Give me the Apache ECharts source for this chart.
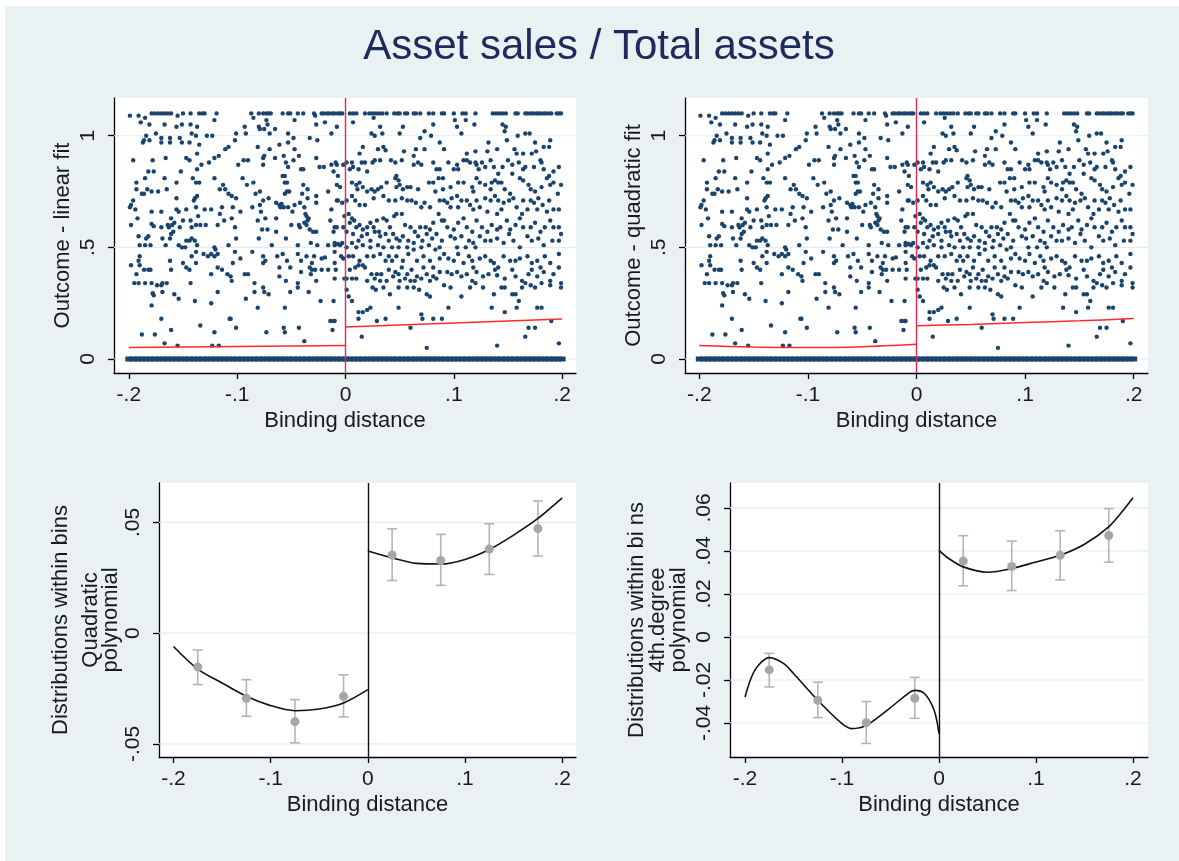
<!DOCTYPE html>
<html>
<head>
<meta charset="utf-8">
<script src="https://cdn.jsdelivr.net/npm/echarts/dist/echarts.min.js"></script>
<style>
html,body{margin:0;padding:0;background:#ffffff;}
#chart{width:1179px;height:861px;}
</style>
</head>
<body>
<div id="chart"></div>
<script>
// ---------------- DATA ----------------
const titleText = 'Asset sales / Total assets';
const xTicks = [-0.2, -0.1, 0, 0.1, 0.2];
const yTicksTop = [0, 0.5, 1];
const yTicksQuad = [-0.05, 0, 0.05];
const yTicksQuart = [-0.04, -0.02, 0, 0.02, 0.04, 0.06];

// observations with outcome exactly 0 (dense band)
const zeroRowX = [-.200,-.196,-.192,-.188,-.184,-.180,-.176,-.172,-.168,-.164,-.160,-.156,-.152,-.148,-.144,-.140,-.136,-.132,-.128,-.124,-.120,-.116,-.112,-.108,-.104,-.100,-.096,-.092,-.088,-.084,-.080,-.076,-.072,-.068,-.064,-.060,-.056,-.052,-.048,-.044,-.040,-.036,-.032,-.028,-.024,-.020,-.016,-.012,-.008,-.004,0,.004,.008,.012,.016,.020,.024,.028,.032,.036,.040,.044,.048,.052,.056,.060,.064,.068,.072,.076,.080,.084,.088,.092,.096,.100,.104,.108,.112,.116,.120,.124,.128,.132,.136,.140,.144,.148,.152,.156,.160,.164,.168,.172,.176,.180,.184,.188,.192,.196,.200];

// observations left of the threshold [binding distance, outcome]
const obsLeft = [
[-.199,1.09],[-.191,1.09],[-.185,1.08],[-.179,1.1],[-.176,1.1],[-.173,1.1],[-.170,1.1],[-.167,1.1],[-.164,1.1],[-.161,1.1],[-.155,1.09],[-.150,1.1],[-.143,1.1],[-.135,1.1],[-.132,1.1],[-.130,1.1],[-.119,1.1],
[-.189,1.06],[-.181,1.05],[-.167,1.05],[-.156,1.04],[-.151,1.05],[-.143,1.05],[-.137,1.04],[-.121,1.07],
[-.184,1.0],[-.175,1.01],[-.170,.99],[-.162,.99],[-.153,.99],[-.142,1.01],[-.138,1.0],[-.128,1.0],[-.123,1.0],
[-.186,.98],[-.187,.97],[-.181,.98],[-.170,.97],[-.162,.97],[-.151,.97],[-.144,.97],[-.135,.96],
[-.137,.92],[-.196,.89],[-.178,.89],[-.166,.90],[-.147,.90],[-.144,.89],[-.133,.87],[-.126,.88],[-.121,.90],[-.117,.91],[-.111,.94],[-.108,.95],
[-.152,.84],[-.137,.85],[-.182,.84],[-.177,.84],[-.185,.81],[-.193,.79],[-.167,.81],[-.156,.79],[-.141,.81],[-.138,.79],[-.135,.79],[-.121,.81],
[-.193,.76],[-.188,.74],[-.186,.74],[-.183,.76],[-.179,.75],[-.173,.75],[-.165,.76],[-.116,.76],[-.113,.78],[-.111,.76],[-.108,.74],
[-.196,.71],[-.198,.69],[-.199,.68],[-.194,.67],[-.192,.63],[-.198,.60],[-.179,.66],[-.170,.66],[-.161,.63],[-.156,.67],[-.154,.66],[-.147,.67],[-.138,.68],[-.136,.64],[-.130,.67],[-.124,.67],[-.114,.68],[-.116,.65],[-.112,.62],
[-.140,.71],[-.139,.72],[-.137,.73],[-.156,.72],
[-.179,.605],[-.177,.595],[-.170,.59],[-.164,.60],[-.163,.59],[-.160,.60],[-.158,.61],[-.153,.59],[-.150,.62],[-.143,.62],[-.142,.59],[-.138,.60],[-.134,.60],[-.129,.60],[-.118,.60],
[-.191,.55],[-.184,.54],[-.182,.55],[-.180,.51],[-.190,.51],[-.185,.51],[-.169,.54],[-.166,.51],[-.162,.54],[-.161,.56],[-.159,.57],[-.154,.51],[-.151,.50],[-.148,.50],[-.147,.53],[-.144,.53],[-.142,.54],[-.139,.53],[-.137,.51],[-.121,.50],[-.120,.49],[-.118,.47],[-.108,.51],
[-.190,.46],[-.191,.44],[-.198,.42],[-.190,.42],[-.193,.38],[-.186,.40],[-.182,.40],[-.180,.40],[-.162,.44],[-.161,.40],[-.150,.43],[-.147,.41],[-.144,.40],[-.142,.46],[-.138,.43],[-.138,.48],[-.131,.47],[-.127,.46],[-.124,.47],[-.121,.46],[-.124,.38],[-.118,.41],[-.114,.40],[-.109,.38],
[-.195,.34],[-.191,.34],[-.185,.34],[-.179,.34],[-.174,.33],[-.170,.33],[-.169,.34],[-.165,.34],[-.178,.295],[-.177,.285],
[-.169,.30],[-.158,.29],[-.154,.27],[-.143,.34],[-.139,.26],[-.124,.25],[-.118,.30],[-.179,.24],
[-.170,.18],[-.161,.13],[-.134,.15],[-.121,.12],[-.107,.18],[-.188,.11],[-.176,.11],[-.167,.07],[-.155,.06],[-.123,.06],[-.117,.06],
[-.087,1.1],[-.080,1.1],[-.076,1.1],[-.073,1.1],[-.071,1.1],[-.069,1.1],[-.058,1.1],[-.053,1.1],[-.051,1.1],[-.044,1.1],[-.039,1.1],[-.029,1.1],[-.022,1.1],[-.020,1.1],[-.017,1.1],[-.015,1.1],[-.012,1.1],[-.010,1.1],[-.007,1.1],[-.005,1.1],[-.003,1.1],
[-.085,1.08],[-.073,1.07],[-.072,1.05],[-.093,1.04],[-.080,1.04],[-.079,1.03],[-.075,1.03],[-.065,1.03],[-.047,1.07],[-.028,1.09],[-.027,1.05],[-.019,1.06],[-.008,1.04],
[-.101,1.01],[-.092,1.01],[-.102,.98],[-.070,1.01],[-.053,1.01],[-.048,.99],[-.033,.99],[-.026,.98],[-.013,1.01],
[-.081,.95],[-.070,.94],[-.061,.96],[-.053,.97],[-.047,.94],[-.075,.91],[-.076,.90],[-.065,.90],[-.057,.91],[-.055,.88],[-.053,.86],[-.048,.89],[-.043,.91],[-.027,.90],
[-.099,.87],[-.094,.89],[-.090,.89],[-.076,.87],[-.041,.85],[-.039,.85],[-.024,.86],[-.020,.86],[-.013,.87],[-.008,.87],
[-.095,.81],[-.091,.78],[-.085,.79],[-.058,.82],[-.056,.82],[-.056,.79],[-.054,.79],
[-.105,.73],[-.101,.72],[-.083,.74],[-.079,.75],[-.056,.74],[-.054,.75],[-.052,.75],[-.039,.78],[-.035,.76],[-.040,.74],[-.016,.75],[-.008,.78],
[-.076,.71],[-.071,.72],[-.064,.70],[-.061,.69],[-.059,.695],[-.057,.68],[-.060,.68],[-.053,.68],[-.047,.69],[-.042,.70],[-.035,.72],[-.027,.73],[-.027,.70],
[-.104,.68],[-.097,.66],[-.086,.68],[-.078,.66],[-.079,.69],[-.049,.66],[-.038,.68],[-.037,.65],[-.036,.64],[-.034,.63],[-.038,.61],[-.036,.60],[-.074,.63],[-.064,.63],[-.105,.63],[-.081,.62],[-.014,.62],[-.010,.59],[-.102,.59],[-.077,.58],[-.072,.58],[-.064,.57],[-.050,.60],[-.043,.60],[-.042,.59],[-.033,.58],[-.030,.57],[-.027,.57],[-.035,.62],[-.007,.71],[-.013,.67],
[-.101,.54],[-.080,.54],[-.055,.54],[-.044,.51],[-.068,.51],[-.032,.52],[-.026,.51],[-.016,.51],[-.010,.51],[-.007,.515],
[-.102,.48],[-.086,.48],[-.076,.46],[-.063,.46],[-.058,.47],[-.054,.44],[-.044,.47],[-.041,.44],[-.036,.46],[-.029,.46],[-.022,.45],[-.019,.455],[-.010,.48],[-.097,.45],[-.104,.43],[-.076,.43],[-.074,.44],
[-.106,.37],[-.105,.35],[-.093,.38],[-.090,.38],[-.061,.41],[-.051,.41],[-.061,.37],[-.041,.39],[-.033,.41],[-.031,.40],[-.032,.38],[-.028,.40],[-.022,.40],[-.016,.40],[-.027,.35],[-.009,.40],[-.031,.43],
[-.084,.34],[-.076,.32],[-.075,.30],[-.084,.30],[-.071,.29],[-.055,.35],[-.044,.34],[-.044,.32],[-.051,.30],[-.034,.30],[-.092,.27],[-.081,.23],[-.056,.23],[-.023,.26],
[-.106,.18],[-.101,.14],[-.073,.12],[-.057,.14],[-.056,.12],[-.043,.14],[-.038,.08],[-.014,.17],[-.010,.17],[-.012,.13],
[-.009,.88],[-.007,.82],[-.005,.77],[-.011,.84],[-.008,.71],[-.008,.59],[-.010,.52],[-.011,.57],[-.005,.51],[-.010,.43],[-.010,.36],[-.004,.46],[-.011,.26],[-.011,.17],
[-.002,.59],[-.003,.52],[-.002,.45],[-.001,.36],[-.003,.70],[-.002,.87],[-.001,.64]
];

// observations right of the threshold [binding distance, outcome]
const obsRight = [
[.004,1.1],[.007,1.1],[.010,1.1],[.018,1.1],[.022,1.1],[.025,1.1],[.028,1.1],[.031,1.1],[.034,1.1],[.038,1.1],[.045,1.1],[.048,1.1],[.050,1.1],[.055,1.1],[.057,1.1],[.063,1.1],[.065,1.1],[.069,1.1],[.077,1.1],[.081,1.1],[.089,1.1],
[.007,1.06],[.026,1.08],[.032,1.04],[.053,1.04],[.081,1.05],[.024,1.01],[.027,1.0],[.034,1.01],[.050,1.01],[.073,1.02],[.069,.99],[.079,1.0],
[.016,.95],[.030,.94],[.035,.95],[.037,.935],[.054,.93],[.063,.91],[.065,.94],[.073,.94],[.087,.97],[.013,.92],
[.006,.88],[.004,.85],[.007,.86],[.012,.85],[.015,.88],[.018,.88],[.020,.84],[.025,.88],[.027,.89],[.032,.89],[.042,.89],[.046,.88],[.052,.89],[.063,.87],[.067,.88],[.070,.87],[.081,.88],[.084,.85],[.087,.85],[.001,.88],
[.006,.79],[.010,.78],[.013,.79],[.011,.76],[.016,.77],[.020,.75],[.024,.76],[.027,.75],[.030,.76],[.033,.77],[.038,.79],[.046,.81],[.047,.77],[.050,.78],[.053,.76],[.057,.77],[.060,.77],[.067,.76],[.077,.79],[.081,.79],[.086,.81],[.090,.81],[.083,.75],[.047,.82],[.049,.80],
[.001,.71],[.006,.73],[.009,.71],[.013,.69],[.018,.69],[.026,.72],[.035,.73],[.040,.71],[.046,.71],[.052,.72],[.057,.71],[.061,.71],[.065,.70],[.070,.68],[.073,.70],[.078,.68],[.087,.71],[.090,.76],
[.003,.65],[.006,.63],[.004,.61],[.008,.62],[.010,.59],[.013,.60],[.016,.58],[.020,.59],[.023,.61],[.026,.59],[.029,.62],[.031,.57],[.035,.63],[.038,.62],[.041,.59],[.045,.64],[.047,.65],[.052,.65],[.055,.60],[.060,.59],[.064,.57],[.069,.59],[.074,.59],[.078,.58],[.081,.61],[.086,.65],[.089,.62],
[.001,.57],[.007,.56],[.012,.53],[.015,.55],[.020,.56],[.023,.53],[.027,.57],[.032,.55],[.037,.56],[.040,.53],[.044,.56],[.047,.54],[.050,.53],[.053,.55],[.058,.53],[.063,.52],[.067,.55],[.071,.53],[.075,.56],[.080,.54],[.084,.56],[.089,.53],
[.001,.50],[.006,.52],[.010,.50],[.016,.51],[.023,.50],[.030,.51],[.035,.50],[.043,.50],[.049,.50],[.057,.50],[.063,.49],[.070,.50],[.077,.51],[.083,.49],[.087,.50],
[.003,.46],[.007,.46],[.013,.44],[.016,.42],[.020,.46],[.026,.46],[.032,.47],[.037,.44],[.040,.46],[.043,.44],[.047,.46],[.053,.44],[.058,.47],[.066,.44],[.072,.46],[.078,.44],[.081,.41],[.087,.45],
[.004,.40],[.009,.41],[.012,.42],[.018,.41],[.024,.38],[.029,.38],[.033,.38],[.040,.40],[.046,.39],[.049,.38],[.052,.41],[.057,.38],[.061,.40],[.066,.37],[.072,.41],[.075,.38],[.081,.37],[.087,.39],
[.001,.36],[.006,.36],[.010,.36],[.020,.35],[.027,.36],[.032,.35],[.038,.35],[.044,.37],[.050,.35],[.055,.36],[.060,.35],[.064,.35],[.070,.36],[.078,.35],[.084,.36],
[.025,.32],[.028,.31],[.035,.32],[.041,.29],[.049,.32],[.057,.32],[.063,.32],[.068,.31],[.075,.29],[.078,.28],[.001,.31],[.003,.28],[.006,.26],
[.023,.23],[.012,.21],[.012,.18],[.016,.21],[.020,.22],[.029,.17],[.037,.18],[.049,.23],[.070,.20],[.071,.18],[.081,.18],[.089,.18],[.060,.14],[.015,.10],[.075,.05],
[.091,1.1],[.100,1.1],[.108,1.1],[.111,1.1],[.120,1.1],[.136,1.1],[.139,1.1],[.142,1.1],[.145,1.1],[.148,1.1],[.157,1.1],[.159,1.1],[.166,1.1],[.168,1.1],[.171,1.1],[.173,1.1],[.176,1.1],[.178,1.1],[.180,1.1],[.183,1.1],[.185,1.1],[.188,1.1],[.190,1.1],[.195,1.1],[.197,1.1],[.199,1.1],
[.101,1.07],[.111,1.07],[.103,1.04],[.119,1.05],[.145,1.05],[.148,1.04],[.107,1.01],[.147,1.02],[.132,.97],[.149,.98],[.159,1.0],[.166,1.01],[.170,1.01],[.175,.97],[.183,.95],[.189,.98],
[.091,.94],[.112,.92],[.120,.93],[.131,.93],[.140,.94],[.156,.94],[.158,.92],[.164,.92],[.172,.92],[.176,.93],[.181,.88],[.188,.95],
[.095,.88],[.103,.87],[.104,.85],[.109,.89],[.112,.89],[.115,.88],[.120,.88],[.121,.87],[.123,.85],[.126,.88],[.129,.86],[.134,.89],[.137,.86],[.141,.83],[.145,.86],[.150,.89],[.154,.87],[.154,.83],[.160,.88],[.164,.85],[.166,.86],[.174,.86],[.180,.89],[.183,.85],[.188,.82],[.192,.84],[.100,.85],
[.097,.77],[.104,.79],[.109,.79],[.117,.77],[.121,.81],[.124,.79],[.129,.78],[.135,.79],[.138,.80],[.141,.79],[.144,.79],[.147,.76],[.152,.74],[.161,.81],[.164,.80],[.169,.78],[.171,.76],[.175,.75],[.181,.77],[.186,.81],[.189,.78],[.192,.79],[.134,.76],[.118,.75],
[.091,.71],[.094,.70],[.098,.72],[.103,.73],[.107,.71],[.112,.71],[.115,.69],[.121,.71],[.124,.68],[.129,.72],[.134,.71],[.138,.73],[.141,.71],[.146,.70],[.151,.71],[.155,.72],[.158,.68],[.164,.71],[.171,.71],[.174,.70],[.178,.72],[.182,.69],[.188,.71],[.192,.67],[.097,.68],[.104,.68],[.118,.67],[.131,.66],[.140,.65],[.144,.67],[.163,.65],[.168,.67],[.177,.67],[.186,.66],
[.091,.62],[.094,.59],[.100,.58],[.104,.61],[.109,.63],[.112,.59],[.117,.57],[.121,.62],[.126,.59],[.131,.57],[.135,.60],[.140,.58],[.143,.59],[.149,.62],[.152,.58],[.157,.60],[.161,.63],[.164,.59],[.171,.59],[.175,.61],[.180,.57],[.184,.59],[.189,.62],[.192,.59],
[.097,.55],[.101,.54],[.107,.55],[.114,.53],[.118,.52],[.124,.55],[.129,.53],[.134,.53],[.140,.54],[.146,.52],[.151,.56],[.155,.53],[.161,.50],[.168,.55],[.172,.53],[.178,.54],[.183,.51],[.191,.53],[.103,.50],[.111,.50],[.120,.50],
[.091,.47],[.095,.45],[.100,.44],[.104,.47],[.109,.43],[.114,.46],[.117,.44],[.118,.41],[.124,.45],[.129,.46],[.134,.44],[.137,.43],[.141,.41],[.146,.46],[.152,.44],[.157,.44],[.161,.45],[.168,.46],[.172,.43],[.177,.44],[.180,.41],[.184,.46],[.189,.43],
[.094,.39],[.098,.38],[.103,.39],[.107,.37],[.112,.38],[.117,.35],[.121,.39],[.127,.37],[.132,.38],[.138,.40],[.140,.375],[.147,.36],[.154,.40],[.157,.37],[.163,.35],[.169,.38],[.172,.40],[.177,.37],[.183,.39],[.189,.35],[.192,.38],
[.091,.33],[.097,.32],[.107,.28],[.115,.32],[.120,.34],[.127,.32],[.137,.29],[.144,.32],[.147,.32],[.154,.29],[.157,.29],[.163,.32],[.166,.34],[.171,.33],[.175,.32],[.181,.34],[.189,.33],
[.095,.23],[.135,.23],[.147,.21],[.160,.26],[.158,.23],[.177,.23],[.181,.23],[.169,.14],[.175,.14],[.166,.10],[.140,.06],[.190,.17],
[.197,.86],[.199,.78],[.197,.67],[.197,.59],[.199,.56],[.197,.53],[.197,.47],[.197,.41],[.199,.34],[.199,.32],[.197,.07],[.196,.74]
];

// fitted values (top panels)
const linFitLeft = [[-0.2, 0.052], [0, 0.060]];
const linFitRight = [[0, 0.143], [0.2, 0.179]];
const quadFitLeft = [[-0.2, 0.060], [-0.15, 0.054], [-0.1, 0.051], [-0.05, 0.055], [0, 0.066]];
const quadFitRight = [[0, 0.149], [0.05, 0.155], [0.1, 0.163], [0.15, 0.171], [0.2, 0.181]];

// bin means with confidence intervals (bottom panels)
const binX = [-0.175, -0.125, -0.075, -0.025, 0.025, 0.075, 0.125, 0.175];
const binMean = [-0.0153, -0.0294, -0.0399, -0.0285, 0.0353, 0.0328, 0.0380, 0.0472];
const binLow = [-0.0232, -0.0375, -0.0495, -0.0378, 0.0238, 0.0216, 0.0265, 0.0348];
const binHigh = [-0.0076, -0.0210, -0.0300, -0.0188, 0.0471, 0.0446, 0.0494, 0.0597];

// polynomial fits (bottom panels)
const quadPolyLeft = [[-0.2, -0.0060], [-0.175, -0.0162], [-0.15, -0.0225], [-0.125, -0.0285], [-0.1, -0.0327], [-0.075, -0.0350], [-0.05, -0.0342], [-0.025, -0.0315], [0, -0.0255]];
const quadPolyRight = [[0, 0.0371], [0.025, 0.0340], [0.05, 0.0315], [0.075, 0.0312], [0.1, 0.0333], [0.125, 0.0378], [0.15, 0.0443], [0.175, 0.0518], [0.2, 0.0611]];
const quartPolyLeft = [[-0.2, -0.0279], [-0.19, -0.0155], [-0.175, -0.0096], [-0.16, -0.0124], [-0.15, -0.0170], [-0.125, -0.0294], [-0.1, -0.0403], [-0.09, -0.0426], [-0.075, -0.0411], [-0.05, -0.0328], [-0.03, -0.0256], [-0.025, -0.0248], [-0.015, -0.0263], [-0.005, -0.0341], [0, -0.0449]];
const quartPolyRight = [[0, 0.0403], [0.01, 0.0365], [0.025, 0.0326], [0.05, 0.0301], [0.075, 0.0318], [0.1, 0.0349], [0.125, 0.0380], [0.15, 0.0431], [0.175, 0.0512], [0.19, 0.0589], [0.2, 0.0647]];

// ---------------- CHART ----------------
const FONT = "'Liberation Sans', Arial, sans-serif";
const NAVY = '#1a446c';
function fmt(v) {
  v = Math.round(v * 10000) / 10000;
  if (v === 0) return '0';
  const s = String(Math.abs(v)).replace(/^0\./, '.');
  return (v < 0 ? '-' : '') + s;
}

const grids = [
  {left: 114, top: 98, width: 462, height: 275},
  {left: 685, top: 98, width: 463, height: 275},
  {left: 159, top: 483, width: 417, height: 274},
  {left: 730, top: 483, width: 418, height: 274}
].map(g => Object.assign({show: true, backgroundColor: '#ffffff', borderWidth: 0, containLabel: false}, g));

const xRanges = [[-0.2137, 0.2128], [-0.2132, 0.2132], [-0.2149, 0.2142], [-0.2155, 0.2155]];
const yRanges = [[-0.0627, 1.169], [-0.0627, 1.169], [-0.0559, 0.0678], [-0.0558, 0.0716]];
const yTickSets = [yTicksTop, yTicksTop, yTicksQuad, yTicksQuart];
const yNames = ['Outcome - linear fit', 'Outcome - quadratic fit',
  '{a|Distributions within bins}\n{b|Quadratic}\n{c|polynomial}',
  'Distributions within bi ns\n4th.degree\npolynomial'];
const yNameGaps = [41, 41, 38, 41];
const nameRich = {
  a: {fontFamily: FONT, fontSize: 22, color: '#1a1a1a', lineHeight: 38},
  b: {fontFamily: FONT, fontSize: 22, color: '#1a1a1a', lineHeight: 22},
  c: {fontFamily: FONT, fontSize: 22, color: '#1a1a1a', lineHeight: 18}
};

const axisLineStyle = {color: '#000000', width: 1.3};
const xAxes = xRanges.map((r, i) => ({
  type: 'value', gridIndex: i, min: r[0], max: r[1],
  name: 'Binding distance', nameLocation: 'middle', nameGap: 37,
  nameTextStyle: {fontFamily: FONT, fontSize: 22, color: '#1a1a1a'},
  axisLine: {show: true, onZero: false, lineStyle: axisLineStyle},
  axisTick: {show: true, length: 6, customValues: xTicks, lineStyle: axisLineStyle},
  axisLabel: {customValues: xTicks, formatter: fmt, margin: 12, fontFamily: FONT, fontSize: 21, color: '#1a1a1a'},
  splitLine: {show: false}
}));
const yAxes = yRanges.map((r, i) => ({
  type: 'value', gridIndex: i, min: r[0], max: r[1],
  name: yNames[i], nameLocation: 'middle', nameGap: yNameGaps[i], nameRotate: 90,
  nameTextStyle: i === 2 ? {rich: nameRich} : {fontFamily: FONT, fontSize: 22, color: '#1a1a1a', lineHeight: 21},
  axisLine: {show: true, onZero: false, lineStyle: axisLineStyle},
  axisTick: {show: true, length: 6, customValues: yTickSets[i], lineStyle: axisLineStyle},
  axisLabel: {customValues: yTickSets[i], formatter: fmt, rotate: 90, margin: 15, fontFamily: FONT, fontSize: 21, color: '#1a1a1a'},
  splitLine: {show: false}
}));

const series = [];
// horizontal grid lines, drawn under the marks
yTickSets.forEach((ticks, i) => {
  series.push({
    type: 'custom', xAxisIndex: i, yAxisIndex: i, z: 1, silent: true,
    data: ticks.map(v => [0, v]),
    renderItem: function (params, api) {
      const cs = params.coordSys;
      const y = api.coord([0, api.value(1)])[1];
      return {type: 'line', shape: {x1: cs.x, y1: y, x2: cs.x + cs.width, y2: y},
        style: {stroke: '#e3edf1', lineWidth: 1.2}};
    }
  });
});
// scatter top panels
[0, 1].forEach(i => {
  series.push({type: 'scatter', xAxisIndex: i, yAxisIndex: i, z: 3, symbol: 'rect', symbolSize: [7, 5],
    itemStyle: {color: NAVY, opacity: 1}, data: zeroRowX.map(x => [x, 0])});
  series.push({type: 'scatter', xAxisIndex: i, yAxisIndex: i, z: 3, symbol: 'circle', symbolSize: 4.4,
    itemStyle: {color: NAVY, opacity: 1}, data: obsLeft.concat(obsRight)});
});
function fitLine(i, data, color, width, vline) {
  const s = {type: 'line', xAxisIndex: i, yAxisIndex: i, z: 4, data: data, showSymbol: false, symbol: 'none',
    smooth: data.length > 2 ? 0.3 : false, lineStyle: {color: color, width: width}};
  if (vline) {
    s.markLine = {silent: true, symbol: 'none', label: {show: false},
      lineStyle: {color: vline, width: 1.4, type: 'solid'}, data: [{xAxis: 0}]};
  }
  return s;
}
series.push(fitLine(0, linFitLeft, '#ff2a2a', 1.5, '#e02a52'));
series.push(fitLine(0, linFitRight, '#ff2a2a', 1.5));
series.push(fitLine(1, quadFitLeft, '#ff2a2a', 1.5, '#e02a52'));
series.push(fitLine(1, quadFitRight, '#ff2a2a', 1.5));

// bottom panels: error bars + means + polynomial fits
[2, 3].forEach(i => {
  series.push({
    type: 'custom', xAxisIndex: i, yAxisIndex: i, z: 3,
    data: binX.map((x, k) => [x, binLow[k], binHigh[k]]),
    renderItem: function (params, api) {
      const x = api.value(0);
      const p1 = api.coord([x, api.value(1)]);
      const p2 = api.coord([x, api.value(2)]);
      const w = 5;
      const st = {stroke: '#b4b4b4', lineWidth: 1.6};
      return {type: 'group', children: [
        {type: 'line', shape: {x1: p1[0], y1: p1[1], x2: p2[0], y2: p2[1]}, style: st},
        {type: 'line', shape: {x1: p1[0] - w, y1: p1[1], x2: p1[0] + w, y2: p1[1]}, style: st},
        {type: 'line', shape: {x1: p2[0] - w, y1: p2[1], x2: p2[0] + w, y2: p2[1]}, style: st}
      ]};
    }
  });
  series.push({type: 'scatter', xAxisIndex: i, yAxisIndex: i, z: 4, symbol: 'circle', symbolSize: 9,
    itemStyle: {color: '#a6a6a6', opacity: 1}, data: binX.map((x, k) => [x, binMean[k]])});
});
series.push(fitLine(2, quadPolyLeft, '#111111', 1.6, '#111111'));
series.push(fitLine(2, quadPolyRight, '#111111', 1.6));
series.push(fitLine(3, quartPolyLeft, '#111111', 1.6, '#111111'));
series.push(fitLine(3, quartPolyRight, '#111111', 1.6));

const option = {
  animation: false,
  backgroundColor: '#ffffff',
  graphic: [
    {type: 'rect', z: -10, silent: true, shape: {x: 5, y: 6, width: 1174, height: 855}, style: {fill: '#e9f1f3'}},
    {type: 'text', z: 10, silent: true, x: 599, y: 26,
      style: {text: titleText, fontFamily: FONT, fontSize: 42, fill: '#1c2b5a', textAlign: 'center', textVerticalAlign: 'top'}}
  ],
  grid: grids,
  xAxis: xAxes,
  yAxis: yAxes,
  series: series
};

const chart = echarts.init(document.getElementById('chart'), null, {renderer: 'canvas'});
chart.setOption(option);
</script>
</body>
</html>
